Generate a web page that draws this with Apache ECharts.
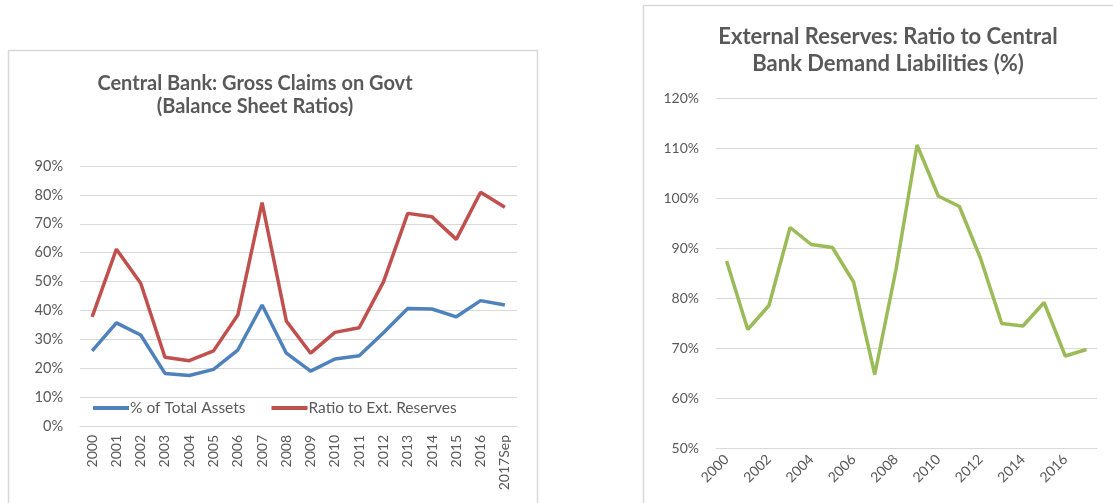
<!DOCTYPE html>
<html>
<head>
<meta charset="utf-8">
<script src="https://cdn.jsdelivr.net/npm/echarts@6/dist/echarts.min.js"></script>
<style>
html,body{margin:0;padding:0;background:#fff;}
#c{width:1113px;height:503px;}
</style>
</head>
<body>
<div id="c"></div>
<script>
const leftCategories = ['2000','2001','2002','2003','2004','2005','2006','2007','2008','2009','2010','2011','2012','2013','2014','2015','2016','2017Sep'];
const pctTotalAssets = [26.0,35.7,31.5,18.2,17.5,19.6,26.3,41.9,25.2,19.0,23.2,24.3,32.3,40.7,40.5,37.8,43.4,41.9];
const ratioExtReserves = [37.8,61.2,49.4,23.8,22.6,26.0,38.4,77.3,36.3,25.2,32.4,34.0,49.9,73.6,72.4,64.6,80.9,75.7];

const rightCategories = ['2000','2001','2002','2003','2004','2005','2006','2007','2008','2009','2010','2011','2012','2013','2014','2015','2016','2017'];
const reservesToLiabilities = [87.4,73.7,78.5,94.1,90.7,90.1,83.2,64.7,85.6,110.6,100.4,98.3,87.9,74.9,74.4,79.1,68.4,69.7];

const leftTitle = 'Central Bank: Gross Claims on Govt\n(Balance Sheet Ratios)';
const rightTitle = 'External Reserves: Ratio to Central\nBank Demand Liabilities (%)';

const FONT = 'Lato';
const TXT = '#595959';
const GRID = '#D9D9D9';

const chart = echarts.init(document.getElementById('c'), null, {renderer:'canvas'});
chart.setOption({
  animation: false,
  backgroundColor: '#fff',
  textStyle: {fontFamily: FONT},
  graphic: [
    {type:'rect', shape:{x:8.5, y:50.5, width:529, height:520}, style:{fill:'none', stroke:GRID, lineWidth:1.5}, silent:true},
    {type:'rect', shape:{x:643.5, y:5.5, width:520, height:560}, style:{fill:'none', stroke:GRID, lineWidth:1.5}, silent:true}
  ],
  title: [
    {text: leftTitle, left: 250, top: 67, textAlign: 'center',
     textStyle:{fontFamily:FONT, fontWeight:'bold', fontSize:20, color:TXT, lineHeight:23}},
    {text: rightTitle, left: 883, top: 18, textAlign: 'center',
     textStyle:{fontFamily:FONT, fontWeight:'bold', fontSize:22, color:TXT, lineHeight:27}}
  ],
  legend: {
    left: 88, top: 395, itemWidth: 36, itemHeight: 4, itemGap: 26, icon: 'rect',
    textStyle:{fontFamily:FONT, fontSize:15.5, color:TXT, padding:[0,0,0,-4]},
    data: ['% of Total Assets','Ratio to Ext. Reserves']
  },
  grid: [
    {left: 80, top: 166, width: 437, height: 260},
    {left: 716, top: 98, width: 381, height: 350}
  ],
  xAxis: [
    {type:'category', gridIndex:0, data:leftCategories, boundaryGap:true,
     axisLine:{lineStyle:{color:GRID}}, axisTick:{show:false},
     axisLabel:{rotate:90, margin:9, interval:0, fontFamily:FONT, fontSize:14, color:TXT}},
    {type:'category', gridIndex:1, data:rightCategories, boundaryGap:true,
     axisLine:{lineStyle:{color:GRID}}, axisTick:{show:false},
     axisLabel:{rotate:45, margin:9, interval:1, fontFamily:FONT, fontSize:14, color:TXT}}
  ],
  yAxis: [
    {type:'value', gridIndex:0, min:0, max:90, interval:10,
     axisLine:{show:false}, axisTick:{show:false},
     splitLine:{lineStyle:{color:GRID}},
     axisLabel:{formatter:'{value}%', margin:17, fontFamily:FONT, fontSize:14.5, color:TXT}},
    {type:'value', gridIndex:1, min:50, max:120, interval:10,
     axisLine:{show:false}, axisTick:{show:false},
     splitLine:{lineStyle:{color:GRID}},
     axisLabel:{formatter:'{value}%', margin:17, fontFamily:FONT, fontSize:14, color:TXT}}
  ],
  series: [
    {name:'% of Total Assets', type:'line', xAxisIndex:0, yAxisIndex:0, data:pctTotalAssets,
     symbol:'none', lineStyle:{width:3.5, color:'#4F81BD'}, itemStyle:{color:'#4F81BD'}},
    {name:'Ratio to Ext. Reserves', type:'line', xAxisIndex:0, yAxisIndex:0, data:ratioExtReserves,
     symbol:'none', lineStyle:{width:3.5, color:'#C0504D'}, itemStyle:{color:'#C0504D'}},
    {name:'Reserves / Demand Liabilities', type:'line', xAxisIndex:1, yAxisIndex:1, data:reservesToLiabilities,
     symbol:'none', lineStyle:{width:3.5, color:'#9BBB59'}, itemStyle:{color:'#9BBB59'}}
  ]
});
</script>
</body>
</html>
